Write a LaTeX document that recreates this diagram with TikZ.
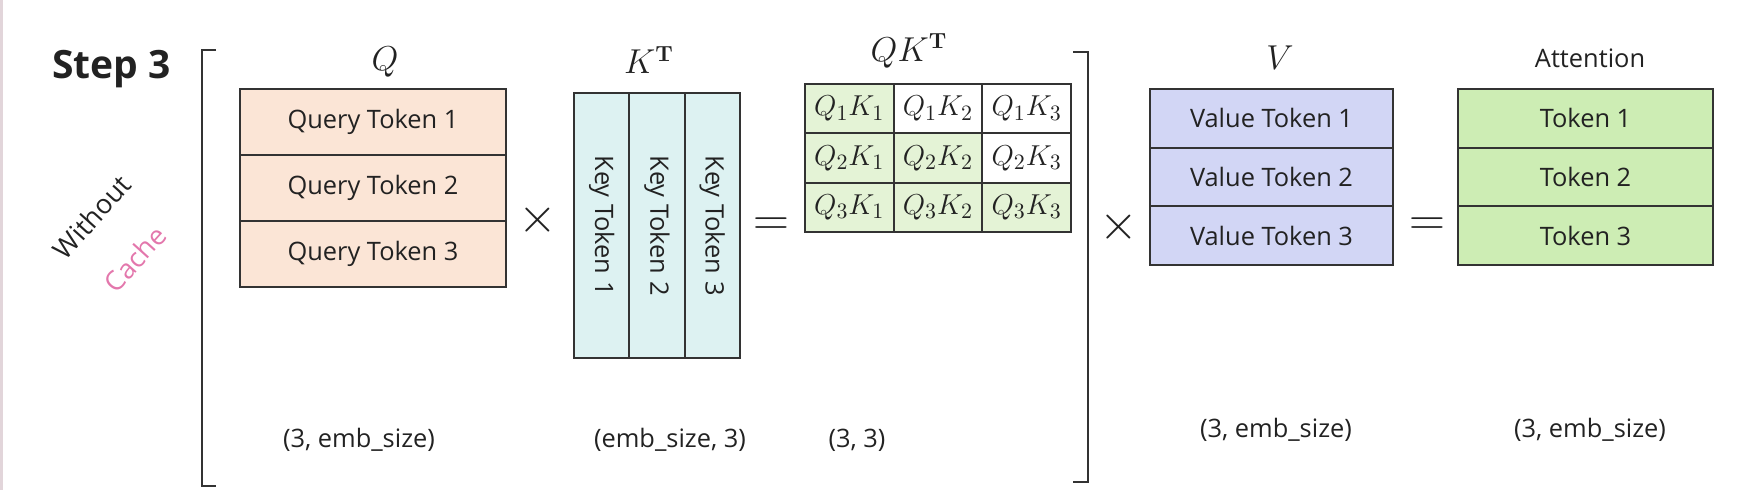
\documentclass[tikz,border=0pt]{standalone}
\usepackage[no-math]{fontspec}
\setmainfont{Open Sans}
\definecolor{peach}{HTML}{FBE5D6}
\definecolor{keyc}{HTML}{DDF2F2}
\definecolor{qkg}{HTML}{E4F3D6}
\definecolor{lav}{HTML}{D2D6F5}
\definecolor{attg}{HTML}{CDEDB4}
\definecolor{pinkc}{HTML}{E377AC}
\definecolor{txt}{HTML}{222222}
\definecolor{linec}{HTML}{333333}
\definecolor{edgec}{HTML}{E2D5DA}
\begin{document}
\begin{tikzpicture}[x=0.5pt,y=0.5pt,
  every node/.style={text=txt},
  tok/.style={draw=linec, line width=1pt, inner sep=0pt, font=\fontsize{12.7}{15}\selectfont},
  qrow/.style={tok, fill=peach, minimum width=133pt, minimum height=33pt},
  kcol/.style={tok, fill=keyc, minimum height=27.67pt, minimum width=132.5pt, rotate=-90},
  qkcell/.style={tok, minimum width=44.33pt, minimum height=24.67pt, font=\fontsize{15}{17}\selectfont},
  vrow/.style={tok, fill=lav, minimum width=121.5pt, minimum height=29.33pt},
  arow/.style={tok, fill=attg, minimum width=127.5pt, minimum height=29.33pt},
  mlabel/.style={inner sep=0pt, font=\fontsize{16}{18}\selectfont},
  dimlabel/.style={inner sep=0pt, font=\fontsize{12.7}{15}\selectfont},
  opsym/.style={inner sep=0pt, font=\fontsize{24}{26}\selectfont},
  brk/.style={draw=linec, line width=1pt}
]
\useasboundingbox (0,0) rectangle (1739,-490);
\fill[edgec] (0,0) rectangle (3,-490);

\node[inner sep=0pt, font=\fontsize{19.5}{22}\selectfont\bfseries, anchor=base west] (step) at (52,-79) {Step 3};
\node[inner sep=0pt, rotate=48, font=\fontsize{13.5}{16}\selectfont] (without) at (92,-217) {Without};
\node[inner sep=0pt, rotate=48, font=\fontsize{13.5}{16}\selectfont, text=pinkc] (cache) at (135,-259) {Cache};

% brackets
\draw[brk] (216,-50) -- (202,-50) -- (202,-486) -- (216,-486);
\draw[brk] (1073,-52) -- (1088,-52) -- (1088,-482) -- (1073,-482);

% Q
\node[mlabel] (qlab) at (385,-62) {$Q$};
\node[qrow] (q1) at (373,-122) {Query Token 1};
\node[qrow] (q2) at (373,-188) {Query Token 2};
\node[qrow] (q3) at (373,-254) {Query Token 3};
\node[opsym] (x1) at (538,-220) {$\times$};

% K^T
\node[mlabel] (klab) at (649,-60) {$K^{\mathbf{T}}$};
\node[kcol] (k1) at (601.7,-225.5) {Key Token 1};
\node[kcol] (k2) at (657,-225.5) {Key Token 2};
\node[kcol] (k3) at (712.3,-225.5) {Key Token 3};
\node[opsym] (eq1) at (771,-227) {$=$};

% QK^T
\node[mlabel] (qklab) at (909,-51) {$QK^{\mathbf{T}}$};
\node[qkcell, fill=qkg] (c11) at (849.3,-108.7) {$Q_1K_1$};
\node[qkcell, fill=white] (c12) at (938,-108.7) {$Q_1K_2$};
\node[qkcell, fill=white] (c13) at (1026.7,-108.7) {$Q_1K_3$};
\node[qkcell, fill=qkg] (c21) at (849.3,-158) {$Q_2K_1$};
\node[qkcell, fill=qkg] (c22) at (938,-158) {$Q_2K_2$};
\node[qkcell, fill=white] (c23) at (1026.7,-158) {$Q_2K_3$};
\node[qkcell, fill=qkg] (c31) at (849.3,-207.3) {$Q_3K_1$};
\node[qkcell, fill=qkg] (c32) at (938,-207.3) {$Q_3K_2$};
\node[qkcell, fill=qkg] (c33) at (1026.7,-207.3) {$Q_3K_3$};
\node[opsym] (x2) at (1119,-227) {$\times$};

% V
\node[mlabel] (vlab) at (1280,-58) {$V$};
\node[vrow] (v1) at (1271.5,-118.3) {Value Token 1};
\node[vrow] (v2) at (1271.5,-177) {Value Token 2};
\node[vrow] (v3) at (1271.5,-235.7) {Value Token 3};
\node[opsym] (eq2) at (1427,-227) {$=$};

% Attention
\node[dimlabel] (alab) at (1590,-58) {Attention};
\node[arow] (a1) at (1585.5,-118.3) {Token 1};
\node[arow] (a2) at (1585.5,-177) {Token 2};
\node[arow] (a3) at (1585.5,-235.7) {Token 3};

% dimension labels
\node[dimlabel] (dq) at (359,-440) {(3, emb\_size)};
\node[dimlabel] (dk) at (670,-440) {(emb\_size, 3)};
\node[dimlabel] (dqk) at (857,-440) {(3, 3)};
\node[dimlabel] (dv) at (1276,-430) {(3, emb\_size)};
\node[dimlabel] (da) at (1590,-430) {(3, emb\_size)};
\end{tikzpicture}
\end{document}
